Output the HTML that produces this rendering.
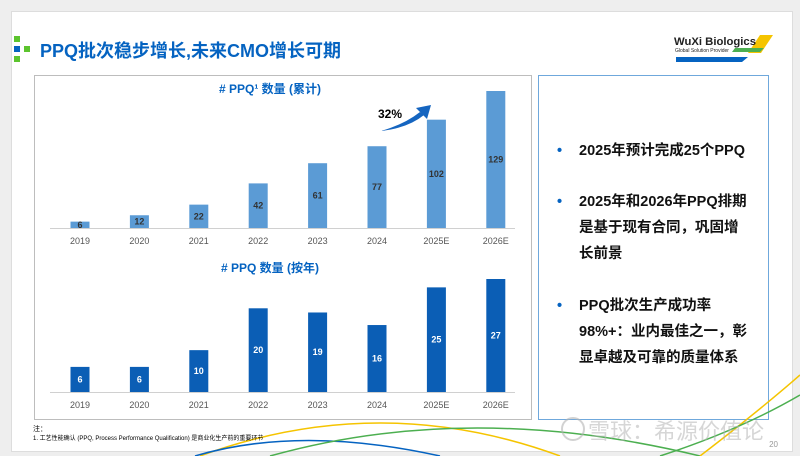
<!DOCTYPE html>
<html><head><meta charset="utf-8"><style>
body{margin:0;width:800px;height:456px;background:#eeeeee;overflow:hidden;font-family:"Liberation Sans","Noto Sans CJK SC",sans-serif;}
#slide{position:absolute;left:11px;top:11px;width:780px;height:439px;background:#fff;border:1px solid #ddd;}
.t{position:absolute;white-space:nowrap}
</style></head><body>
<div id="slide"></div>
<svg width="800" height="456" style="position:absolute;left:0;top:0">
 <rect x="14" y="36" width="6" height="6" fill="#5cc42e"/>
 <rect x="14" y="46" width="6" height="6" fill="#0563c1"/>
 <rect x="24" y="46" width="6" height="6" fill="#5cc42e"/>
 <rect x="14" y="56" width="6" height="6" fill="#5cc42e"/>
 <text x="40" y="57" font-size="18" font-weight="bold" fill="#0563c1" font-family="Liberation Sans,Noto Sans CJK SC,sans-serif">PPQ批次稳步增长,未来CMO增长可期</text>
 <polygon points="760,35 773,35 761,53 748,53" fill="#f5c400"/>
 <polygon points="735,48 764,48 760,52 732,52" fill="#4caf50"/>
 <polygon points="676,57 748,57 742,62 676,62" fill="#0563c1"/>
 <text x="674" y="45" font-size="11" font-weight="bold" fill="#222" font-family="Liberation Sans,sans-serif" textLength="82" lengthAdjust="spacingAndGlyphs">WuXi Biologics</text>
 <text x="675" y="52" font-size="5" fill="#222" font-family="Liberation Sans,sans-serif">Global Solution Provider</text>
 <rect x="34.5" y="75.5" width="497" height="344" fill="#fff" stroke="#bdbdbd"/>
 <rect x="538.5" y="75.5" width="230" height="344" fill="#fff" stroke="#6fa8dc"/>
 <path d="M200,456 Q380,390 560,456" stroke="#f5c400" stroke-width="1.5" fill="none"/>
 <path d="M195,456 Q300,425 440,456" stroke="#0563c1" stroke-width="1.5" fill="none"/>
 <path d="M270,456 Q470,400 700,456" stroke="#4caf50" stroke-width="1.5" fill="none"/>
 <path d="M700,456 Q760,410 800,375" stroke="#f5c400" stroke-width="1.5" fill="none"/>
 <path d="M660,456 Q740,430 800,395" stroke="#4caf50" stroke-width="1.5" fill="none"/>
 <g id="charts"></g>
 <text x="402" y="118" font-size="12" font-weight="bold" fill="#000" font-family="Liberation Sans,sans-serif" text-anchor="end">32%</text>
 <path d="M381,131 Q405,124 420,112 L424,115 Q408,128 381,131 Z" fill="#1565c0"/>
 <polygon points="416,108 431,105 427,119" fill="#1565c0"/>
 <text x="33" y="431" font-size="7" fill="#000" font-family="Liberation Sans,Noto Sans CJK SC,sans-serif">注：</text>
 <text x="33" y="440" font-size="6" fill="#000" font-family="Liberation Sans,Noto Sans CJK SC,sans-serif">1. 工艺性能确认 (PPQ, Process Performance Qualification) 是商业化生产前的重要环节</text>
 <text x="778" y="447" font-size="8" fill="#999" text-anchor="end">20</text>
 <circle cx="573" cy="429" r="11" fill="none" stroke="rgba(180,180,180,0.6)" stroke-width="2"/>
</svg>
<div class="t" style="left:579px;top:138px;font-size:14.5px;font-weight:bold;line-height:26px;color:#111">
 <div style="position:absolute;top:0"><span style="color:#0563c1;position:absolute;left:-22px">•</span>2025年预计完成25个PPQ</div>
 <div style="position:absolute;top:51px"><span style="color:#0563c1;position:absolute;left:-22px">•</span>2025年和2026年PPQ排期<br>是基于现有合同，巩固增<br>长前景</div>
 <div style="position:absolute;top:155px"><span style="color:#0563c1;position:absolute;left:-22px">•</span>PPQ批次生产成功率<br>98%+：业内最佳之一，彰<br>显卓越及可靠的质量体系</div>
</div>
<div class="t" style="left:588px;top:414px;font-size:22px;color:rgba(180,180,180,0.55)">雪球：希源价值论</div>
<script>
const categories=["2019","2020","2021","2022","2023","2024","2025E","2026E"];
const cumulative=[6,12,22,42,61,77,102,129];
const annual=[6,6,10,20,19,16,25,27];
const NS="http://www.w3.org/2000/svg";
const g=document.getElementById('charts');
function xPos(i){return 80+i*59.4;}
function mk(tag,attrs){const e=document.createElementNS(NS,tag);for(const k in attrs)e.setAttribute(k,attrs[k]);g.appendChild(e);return e;}
function draw(vals,base,scale,color,title,titleY,key){
 const t=mk('text',{x:270,y:titleY,'font-size':12,'font-weight':'bold',fill:'#0563c1','text-anchor':'middle','font-family':'Liberation Sans,Noto Sans CJK SC,sans-serif'});
 t.textContent=title;
 
 
 const ax=mk('line',{x1:50,x2:515,y1:base+0.5,y2:base+0.5,stroke:'#d0d0d0'});
 
 
 vals.forEach((v,i)=>{
  const h=v*scale,x=xPos(i);
  const r=mk('rect',{x:x-9.5,y:base-h,width:19,height:h,fill:color});
  
  
  const lb=mk('text',{x:x,y:base-h/2+3,'font-size':9,'font-weight':'bold',fill:key==='cumulative'?'#333':'#fff','text-anchor':'middle','font-family':'Liberation Sans,sans-serif'});
  lb.textContent=v;
  
  
  const c=mk('text',{x:x,y:base+16,'font-size':9,fill:'#555','text-anchor':'middle','font-family':'Liberation Sans,sans-serif'});
  c.textContent=categories[i];
  
  
 });
}
draw(cumulative,228,137/129,'#5b9bd5','# PPQ¹ 数量 (累计)',93,'cumulative');
draw(annual,392,113/27,'#0b5eb5','# PPQ 数量 (按年)',272,'annual');
</script>
</body></html>
